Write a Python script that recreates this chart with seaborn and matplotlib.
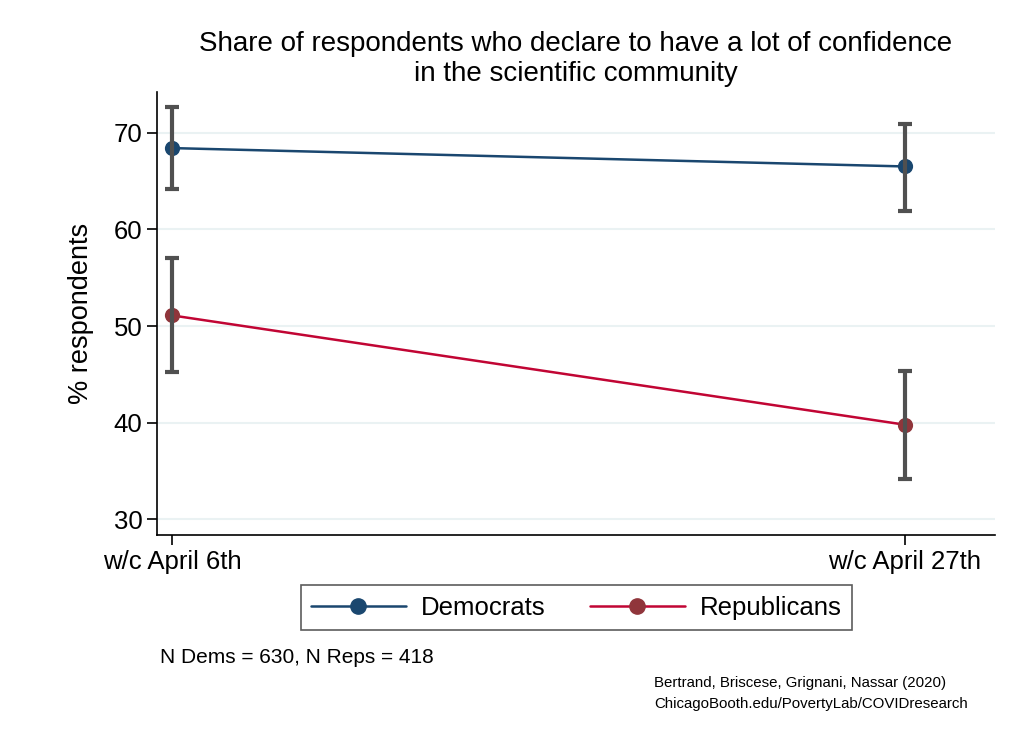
import numpy as np
import pandas as pd
import matplotlib
matplotlib.use("Agg")
import matplotlib.pyplot as plt
import seaborn as sns
from matplotlib.lines import Line2D

weeks = ["w/c April 6th", "w/c April 27th"]
dems = [68.4, 66.5]
dems_lo = [64.2, 61.9]
dems_hi = [72.6, 70.9]
reps = [51.1, 39.8]
reps_lo = [45.2, 34.2]
reps_hi = [57.0, 45.4]

df = pd.DataFrame({
    "x": [0, 1, 0, 1],
    "value": dems + reps,
    "lo": dems_lo + reps_lo,
    "hi": dems_hi + reps_hi,
    "party": ["Democrats"] * 2 + ["Republicans"] * 2,
})

sns.set_style("white")
plt.rcParams['font.family'] = ['Liberation Sans', 'DejaVu Sans']
plt.rcParams['text.color'] = 'black'
plt.rcParams['axes.labelcolor'] = 'black'
plt.rcParams['xtick.color'] = 'black'
plt.rcParams['ytick.color'] = 'black'

line_col = {"Democrats": "#1a476f", "Republicans": "#c10534"}
mark_col = {"Democrats": "#1a476f", "Republicans": "#90353b"}

fig = plt.figure(figsize=(10.21, 7.43), dpi=100)
ax = fig.add_axes([0.1538, 0.28, 0.8207, 0.5962])

for party in ["Democrats", "Republicans"]:
    d = df[df.party == party]
    sns.lineplot(data=d, x="x", y="value", ax=ax, color=line_col[party],
                 lw=1.8, zorder=2, legend=False)
    ax.scatter(d.x, d.value, s=120, color=mark_col[party], zorder=3, lw=0)
    ax.errorbar(d.x, d.value, yerr=[d.value - d.lo, d.hi - d.value], fmt="none",
                ecolor="#505050", elinewidth=3, capsize=5, capthick=3, zorder=4)

ax.set_xlim(-0.0205, 1.123)
ax.set_ylim(28.4, 74.2)
ax.set_yticks([30, 40, 50, 60, 70])
ax.set_xticks([0, 1])
ax.set_xticklabels(weeks)
ax.grid(axis="y", color="#eaf2f3", lw=1.5)
ax.set_axisbelow(True)
for s in ["top", "right"]:
    ax.spines[s].set_visible(False)
for s in ["left", "bottom"]:
    ax.spines[s].set_color("black")
    ax.spines[s].set_linewidth(1.2)
ax.tick_params(axis="both", labelsize=18.5, length=7, width=1.2, color="black",
               direction="out", left=True, bottom=True)
ax.set_xlabel("")
ax.set_ylabel("% respondents", fontsize=19.5, labelpad=14)
ax.set_title("Share of respondents who declare to have a lot of confidence\nin the scientific community",
             fontsize=20, pad=8, linespacing=1.2)

handles = [Line2D([], [], color=line_col[p], lw=1.8, marker="o", markersize=11,
                  markerfacecolor=mark_col[p], markeredgecolor=mark_col[p])
           for p in ["Democrats", "Republicans"]]
leg = fig.legend(handles, ["Democrats", "Republicans"], loc="center", bbox_to_anchor=(0.5646, 0.182),
                 ncol=2, fontsize=18.5, frameon=True, fancybox=False, handlelength=3.7,
                 columnspacing=1.7, handletextpad=0.6, borderpad=0.4, borderaxespad=0)
leg.get_frame().set_edgecolor("#333333")
leg.get_frame().set_linewidth(1.2)

fig.text(0.157, 0.115, "N Dems = 630, N Reps = 418", fontsize=15, va="center")
fig.text(0.641, 0.081, "Bertrand, Briscese, Grignani, Nassar (2020)", fontsize=10.8, va="center")
fig.text(0.641, 0.053, "ChicagoBooth.edu/PovertyLab/COVIDresearch", fontsize=10.8, va="center")

fig.savefig("out.png", dpi=100)
